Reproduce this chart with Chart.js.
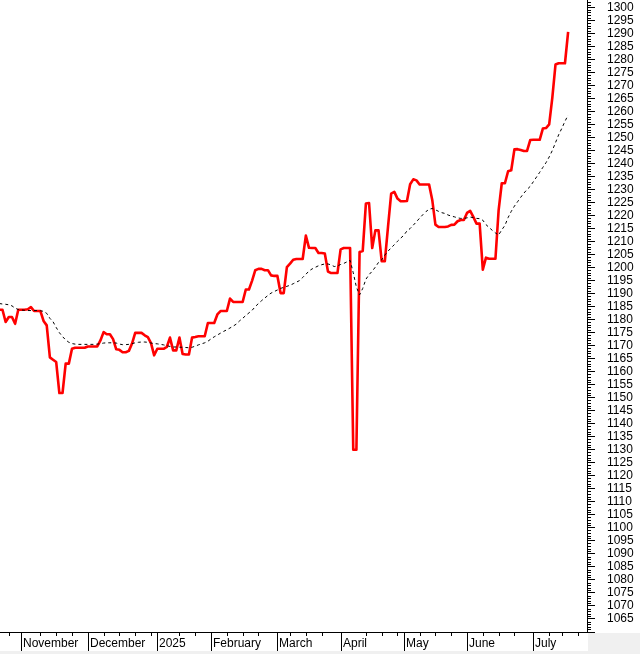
<!DOCTYPE html>
<html>
<head>
<meta charset="utf-8">
<script src="https://cdn.jsdelivr.net/npm/chart.js@4.4.1/dist/chart.umd.min.js"></script>
<style>
    html, body { margin: 0; padding: 0; background: #ffffff; overflow: hidden; }
    #wrap { width: 640px; height: 654px; position: relative; }
</style>
</head>
<body>
<div id="wrap"><canvas id="chart"></canvas></div>
<script>
// trading day index: 0 = first session of November 2024
const firstDay = -8;

const closeValues = [
    1183.8, 1183.8, 1179.1, 1181.0, 1181.0, 1178.4, 1183.8, 1183.8,
    1183.8, 1184.0, 1184.8, 1183.3, 1183.3, 1183.3, 1179.5, 1177.8, 1165.5, 1164.6,
    1163.7, 1151.8, 1151.8, 1163.1, 1163.1, 1168.8, 1169.2, 1169.2, 1169.2, 1169.2,
    1169.7, 1169.7, 1169.7, 1169.7, 1172.0, 1175.2, 1174.4, 1174.4, 1172.5, 1168.6,
    1168.4, 1167.5, 1167.5, 1168.0, 1170.8, 1174.9, 1174.9, 1174.9, 1174.0, 1173.3,
    1171.0, 1166.3, 1168.8, 1168.8, 1168.8, 1169.5, 1173.1, 1168.2, 1168.2, 1173.1,
    1166.8, 1166.6, 1166.6, 1173.1, 1173.3, 1173.6, 1173.6, 1173.6, 1178.7, 1178.7,
    1178.7, 1182.0, 1183.3, 1183.3, 1183.3, 1188.1, 1186.8, 1186.8, 1186.8, 1186.8,
    1191.6, 1191.6, 1195.0, 1199.0, 1199.5, 1199.5, 1199.0, 1199.0, 1197.0, 1196.8,
    1196.8, 1190.2, 1190.2, 1200.2, 1201.5, 1203.0, 1203.3, 1203.3, 1203.3, 1212.3,
    1207.6, 1207.5, 1207.5, 1205.6, 1205.6, 1205.4, 1198.5, 1197.9, 1197.9, 1197.9,
    1207.0, 1207.5, 1207.5, 1207.5, 1130.0, 1130.0, 1206.0, 1206.4, 1224.6, 1224.8,
    1207.5, 1214.3, 1214.3, 1202.5, 1202.5, 1215.6, 1228.4, 1229.1, 1226.5, 1225.5,
    1225.5, 1225.6, 1232.0, 1233.9, 1233.5, 1231.9, 1231.9, 1231.9, 1231.9, 1226.0,
    1216.5, 1215.6, 1215.6, 1215.6, 1215.8, 1216.4, 1216.5, 1217.8, 1218.3, 1218.3,
    1221.0, 1221.8, 1219.5, 1216.9, 1216.9, 1199.2, 1203.8, 1203.4, 1203.4, 1203.4,
    1222.0, 1232.4, 1232.4, 1237.0, 1237.4, 1245.4, 1245.5, 1245.2, 1244.8, 1244.8,
    1249.0, 1249.1, 1249.1, 1249.1, 1253.4, 1253.6, 1255.0, 1265.3, 1278.0, 1278.5,
    1278.5, 1278.5, 1290.6
];

const avgValues = [
    1186.2, 1186.0, 1185.9, 1185.7, 1185.3, 1184.4, 1183.9, 1183.7,
    1183.6, 1183.5, 1183.5, 1183.5, 1183.5, 1183.4, 1183.2, 1182.4, 1180.5, 1179.2,
    1177.0, 1175.0, 1173.5, 1172.2, 1171.3, 1170.8, 1170.6, 1170.5, 1170.5, 1170.5,
    1170.5, 1170.5, 1170.5, 1170.6, 1170.8, 1171.0, 1171.1, 1171.1, 1171.1, 1171.0,
    1170.6, 1170.4, 1170.4, 1170.5, 1170.8, 1171.1, 1171.3, 1171.4, 1171.4, 1171.3,
    1171.0, 1170.8, 1170.7, 1170.5, 1170.3, 1170.0, 1169.7, 1169.5, 1169.5, 1169.4,
    1169.4, 1169.3, 1169.2, 1169.4, 1169.8, 1170.3, 1170.7, 1171.1, 1171.7, 1172.6,
    1173.4, 1174.1, 1174.8, 1175.5, 1176.1, 1176.8, 1177.5, 1178.3, 1179.5, 1180.5,
    1181.6, 1182.6, 1183.6, 1185.0, 1186.2, 1187.3, 1188.3, 1189.3, 1190.2, 1190.8,
    1191.4, 1192.0, 1192.4, 1192.8, 1193.2, 1193.8, 1194.4, 1195.0, 1196.2, 1197.4,
    1198.7, 1199.5, 1200.1, 1200.7, 1201.1, 1201.4, 1201.4, 1201.0, 1200.4, 1200.6,
    1201.2, 1201.6, 1202.2, 1202.8, 1198.0, 1192.5, 1189.5, 1192.0, 1195.5, 1197.3,
    1198.6, 1200.2, 1202.0, 1203.0, 1204.8, 1206.3, 1207.6, 1208.8, 1210.1, 1211.3,
    1212.4, 1214.1, 1215.0, 1216.3, 1217.6, 1219.0, 1220.3, 1221.5, 1222.4, 1222.7,
    1222.2, 1221.6, 1221.1, 1220.8, 1220.2, 1219.8, 1219.5, 1219.1, 1218.9, 1218.9,
    1219.1, 1219.4, 1219.2, 1218.9, 1218.8, 1218.2, 1216.5, 1215.4, 1214.3, 1213.3,
    1212.5, 1214.5, 1216.2, 1219.2, 1221.6, 1223.6, 1225.3, 1227.0, 1228.6, 1230.0,
    1231.2, 1233.0, 1234.8, 1236.6, 1238.5, 1240.3, 1242.5, 1245.0, 1248.0, 1251.0,
    1253.5, 1256.2, 1258.6
];

const monthLabels = ['November', 'December', '2025', 'February', 'March', 'April', 'May', 'June', 'July'];
const monthLines = [-1, 20, 42, 59, 80, 100, 120, 140, 161];
const weekTicks = [-5, 5, 10, 15, 25, 30, 35, 40, 49, 54, 64, 69, 74, 84, 89, 94,
    108, 113, 118, 125, 130, 135, 145, 150, 155, 166, 170, 175];

const FONT = '"Liberation Sans", Arial, sans-serif';
Chart.defaults.font.family = FONT;

// background, bottom date axis and minor price ticks
const axisDecor = {
    id: 'axisDecor',
    beforeDraw(chart) {
        const c = chart.ctx;
        const a = chart.chartArea;
        c.save();
        c.fillStyle = '#ffffff';
        c.fillRect(0, 0, chart.width, chart.height);
        c.fillStyle = '#f0f0f0';
        c.fillRect(a.right + 1, a.bottom + 1, chart.width - a.right - 1, chart.height - a.bottom - 1);
        c.fillRect(0, chart.height - 3, chart.width, 3);
        c.restore();
    },
    afterDraw(chart) {
        const c = chart.ctx;
        const a = chart.chartArea;
        const xs = chart.scales.x;
        const ys = chart.scales.y;
        c.save();
        c.strokeStyle = '#000000';
        c.lineWidth = 1;
        c.beginPath();
        c.moveTo(a.left, a.bottom + 0.5);
        c.lineTo(a.right + 1, a.bottom + 0.5);
        weekTicks.forEach(d => {
            const px = Math.round(xs.getPixelForValue(d)) + 0.5;
            c.moveTo(px, a.bottom);
            c.lineTo(px, a.bottom + 4);
        });
        monthLines.forEach(d => {
            const px = Math.round(xs.getPixelForValue(d)) + 0.5;
            c.moveTo(px, a.bottom);
            c.lineTo(px, chart.height - 3);
        });
        for (let v = Math.ceil(ys.min); v <= ys.max; v++) {
            if (v % 5 === 0) continue;
            const py = Math.round(ys.getPixelForValue(v)) + 0.5;
            c.moveTo(a.right, py);
            c.lineTo(a.right + 4, py);
        }
        c.stroke();
        c.fillStyle = '#000000';
        c.font = '12px ' + FONT;
        c.textAlign = 'left';
        c.textBaseline = 'middle';
        monthLines.forEach((d, k) => {
            c.fillText(monthLabels[k], Math.round(xs.getPixelForValue(d)) + 2, a.bottom + 11.5);
        });
        c.restore();
    }
};

const ctx = document.getElementById('chart').getContext('2d');
window.priceChart = new Chart(ctx, {
    type: 'line',
    data: {
        datasets: [{
            label: 'Average',
            data: avgValues.map((v, k) => ({ x: firstDay + k, y: v })),
            borderColor: '#000000',
            borderWidth: 1,
            borderDash: [3, 3],
            pointRadius: 0,
            tension: 0,
            fill: false,
            order: 0
        }, {
            label: 'Close',
            data: closeValues.map((v, k) => ({ x: firstDay + k, y: v })),
            borderColor: '#ff0000',
            borderWidth: 2.6,
            borderJoinStyle: 'round',
            pointRadius: 0,
            tension: 0,
            fill: false,
            order: 1
        }]
    },
    options: {
        responsive: true,
        maintainAspectRatio: false,
        animation: false,
        events: [],
        layout: {
            padding: { left: 0, top: 0, right: 0, bottom: 22 }
        },
        scales: {
            x: {
                type: 'linear',
                display: false,
                min: -7.785,
                max: 177.97
            },
            y: {
                type: 'linear',
                position: 'right',
                min: 1060,
                max: 1302.8,
                afterFit: scale => {
                    scale.width = 53;
                    scale.paddingTop = 0;
                    scale.paddingBottom = 0;
                },
                ticks: {
                    stepSize: 5,
                    maxTicksLimit: 100,
                    autoSkip: false,
                    includeBounds: false,
                    padding: 12,
                    color: '#000000',
                    font: {
                        size: 12
                    },
                    callback: v => (v >= 1065 ? v : '')
                },
                grid: {
                    drawOnChartArea: false,
                    drawTicks: true,
                    tickLength: 8,
                    color: '#000000'
                },
                border: {
                    display: true,
                    color: '#000000',
                    width: 1
                }
            }
        },
        plugins: {
            legend: { display: false },
            tooltip: { enabled: false }
        }
    },
    plugins: [axisDecor]
});
</script>
</body>
</html>
